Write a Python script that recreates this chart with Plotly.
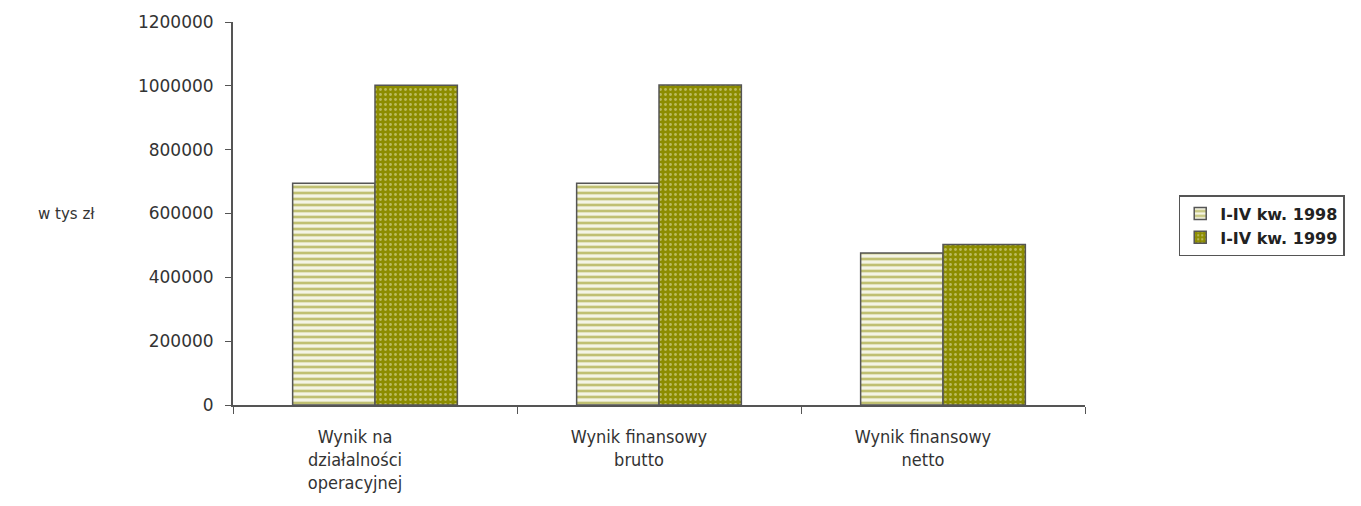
import plotly.graph_objects as go

categories = ["Wynik na<br>działalności<br>operacyjnej", "Wynik finansowy<br>brutto", "Wynik finansowy<br>netto"]
series_names = ["I-IV kw. 1998", "I-IV kw. 1999"]
values_1998 = [695000, 695000, 476000]
values_1999 = [1002000, 1003000, 503000]
y_ticks = [0, 200000, 400000, 600000, 800000, 1000000, 1200000]

OLIVE = "#8c8c00"
FONT = "DejaVu Sans, Liberation Sans, Arial, sans-serif"
NARROW = "DejaVu Sans Condensed, Liberation Sans, sans-serif"
fig = go.Figure()
fig.add_bar(
    x=categories, y=values_1998, name=series_names[0],
    marker=dict(color="#f4f4e4", line=dict(color="#555555", width=1.5),
                pattern=dict(shape="-", fgcolor=OLIVE, bgcolor="#f4f4e4", size=6, solidity=0.45)),
)
fig.add_bar(
    x=categories, y=values_1999, name=series_names[1],
    marker=dict(color=OLIVE, line=dict(color="#555555", width=1.5),
                pattern=dict(shape=".", fgcolor="#e8e8c0", bgcolor=OLIVE, size=5, solidity=0.25)),
)

fig.update_layout(
    width=1361, height=506,
    margin=dict(l=225, r=284, t=14, b=109),
    paper_bgcolor="white", plot_bgcolor="white",
    barmode="group", bargap=0.42, bargroupgap=0,
    font=dict(family=FONT, size=16, color="#333333"),
    showlegend=True,
    legend=dict(x=1.11, y=0.548, xanchor="left", yanchor="top",
                bordercolor="#555555", borderwidth=1.5, bgcolor="white",
                font=dict(size=16, color="#222222", family=FONT, weight="bold"),
                tracegroupgap=0, itemwidth=30),
    xaxis=dict(showline=True, linecolor="#555555", linewidth=2, ticks="outside",
               tickson="boundaries", tickcolor="#555555", ticklen=7, showgrid=False,
               ticklabelstandoff=14, ticklabelshift=-20, automargin=False,
               tickfont=dict(size=18, color="#333333", family=NARROW)),
    yaxis=dict(range=[0, 1200000], tickvals=y_ticks, ticktext=[str(v) for v in y_ticks],
               showline=True, linecolor="#555555", linewidth=2, ticks="outside",
               tickcolor="#555555", ticklen=6, showgrid=False, zeroline=False,
               ticklabelstandoff=8, automargin=False,
               tickfont=dict(size=17, color="#333333", family=FONT)),
    annotations=[dict(text="w tys zł", xref="paper", yref="paper", x=-0.195, y=0.5,
                      xanchor="center", yanchor="middle", showarrow=False,
                      font=dict(size=15, color="#333333", family=FONT))],
)

fig.write_html("out.html")
